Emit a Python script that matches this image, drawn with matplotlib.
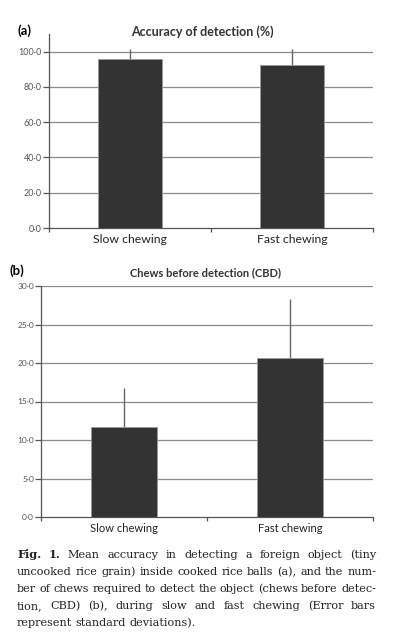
import numpy as np
import matplotlib.pyplot as plt
from matplotlib.ticker import FixedLocator

# chart values
categories = ["Slow chewing", "Fast chewing"]
accuracy_mean = [96.0, 92.6]
accuracy_sd = [5.5, 9.1]
cbd_mean = [11.7, 20.7]
cbd_sd = [5.0, 7.6]
accuracy_ticks = [0, 20, 40, 60, 80, 100]
cbd_ticks = [0, 5, 10, 15, 20, 25, 30]

caption_lines = [
    "Mean accuracy in detecting a foreign object (tiny",
    "uncooked rice grain) inside cooked rice balls (a), and the num-",
    "ber of chews required to detect the object (chews before detec-",
    "tion, CBD) (b), during slow and fast chewing (Error bars",
    "represent standard deviations).",
]

plt.rcParams['font.family'] = ['Lato', 'DejaVu Sans']

W, H = 394, 638
fig = plt.figure(figsize=(W / 100, H / 100), dpi=100)

bar_col = "#333333"
grid_col = "#8a8a8a"
tick_col = "#555555"


def px_axes(x0, x1, y0, y1):
    # pixel box (left, right, top, bottom) -> figure fraction
    return fig.add_axes([x0 / W, 1 - y1 / H, (x1 - x0) / W, (y1 - y0) / H])


def bar_panel(ax, means, sds, ticks, ymax, ytick_size, xtick_size):
    x = np.arange(len(categories))
    ax.bar(x, means, width=0.4, color=bar_col, edgecolor="#9a9a9a", linewidth=0.6, zorder=3)
    ax.errorbar(x, means, yerr=[np.zeros(len(sds)), sds], fmt="none", ecolor="#666666",
                elinewidth=1.0, capsize=0, zorder=2)
    ax.set_xlim(-0.5, len(categories) - 0.5)
    ax.set_ylim(0, ymax)
    ax.set_yticks(ticks)
    ax.set_yticklabels([f"{t:.1f}".replace(".", "\u00b7") for t in ticks],
                       fontsize=ytick_size, color="#555555")
    for t in ticks[1:]:
        ax.axhline(t, color=grid_col, lw=0.9, zorder=1)
    ax.set_xticks(x)
    ax.set_xticklabels(categories, fontsize=xtick_size, color="#222222")
    ax.tick_params(axis="x", which="major", length=0, pad=4)
    ax.xaxis.set_minor_locator(FixedLocator(np.arange(len(categories) + 1) - 0.5))
    ax.tick_params(axis="x", which="minor", length=3, color=tick_col, width=0.9)
    ax.tick_params(axis="y", length=4, color=tick_col, width=0.9, pad=1)
    for s in ["top", "right"]:
        ax.spines[s].set_visible(False)
    for s in ["left", "bottom"]:
        ax.spines[s].set_color(tick_col)
        ax.spines[s].set_linewidth(0.9)


# panel (a)
ax1 = px_axes(49, 373, 34, 228)
bar_panel(ax1, accuracy_mean, accuracy_sd, accuracy_ticks, 110, 6.5, 8.8)
fig.text(202 / W, 1 - 32 / H, "Accuracy of detection (%)", ha="center", va="center",
         fontsize=9, fontweight="bold", color="#333333")
fig.text(17 / W, 1 - 31 / H, "(a)", ha="left", va="center", fontsize=9.5, fontweight="bold")

# panel (b)
ax2 = px_axes(41, 373, 286, 517)
bar_panel(ax2, cbd_mean, cbd_sd, cbd_ticks, 30, 6, 8)
fig.text(206 / W, 1 - 273 / H, "Chews before detection (CBD)", ha="center", va="center",
         fontsize=8, fontweight="bold", color="#333333")
fig.text(9 / W, 1 - 271 / H, "(b)", ha="left", va="center", fontsize=9.5, fontweight="bold")

# caption, justified between two edges
cap_left, cap_right = 17, 376
cap_base = [558, 575, 592, 609, 626]
cap_font = dict(family="DejaVu Serif", fontsize=8.1, color="#222222")
renderer = fig.canvas.get_renderer()


def text_width(s, weight="normal"):
    t = fig.text(0, 0, s, fontweight=weight, **cap_font)
    w = t.get_window_extent(renderer).width
    t.remove()
    return w


space_w = text_width("a a") - text_width("aa")


def place_words(words, y, justify, bold_first=0):
    texts, widths = [], []
    for i, w in enumerate(words):
        weight = "bold" if i < bold_first else "normal"
        t = fig.text(0, 1 - y / H, w, ha="left", va="baseline", fontweight=weight, **cap_font)
        texts.append(t)
        widths.append(t.get_window_extent(renderer).width)
    if justify and len(words) > 1:
        gap = (cap_right - cap_left - sum(widths)) / (len(words) - 1)
    else:
        gap = space_w
    x = cap_left
    for t, wdt in zip(texts, widths):
        t.set_x(x / W)
        x += wdt + gap


for i, line in enumerate(caption_lines):
    words = line.split()
    if i == 0:
        place_words(["Fig.", "1."] + words, cap_base[i], True, bold_first=2)
    else:
        place_words(words, cap_base[i], i < len(caption_lines) - 1)

fig.savefig("out.png", dpi=100)
